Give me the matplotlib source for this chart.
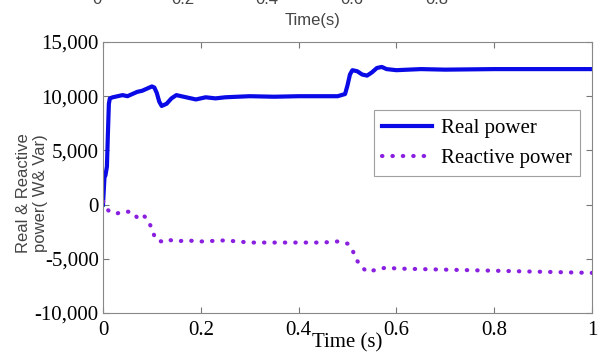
import numpy as np
import matplotlib.pyplot as plt
from matplotlib.ticker import FuncFormatter

plt.rcParams['font.family'] = 'Liberation Serif'

# real power (W)
t_real = [0, 0.003, 0.005, 0.008, 0.010, 0.012, 0.014, 0.02, 0.03, 0.04, 0.05,
          0.06, 0.07, 0.08, 0.09, 0.095, 0.10, 0.105, 0.11, 0.115, 0.12, 0.13,
          0.14, 0.15, 0.17, 0.19, 0.21, 0.23, 0.25, 0.30, 0.35, 0.40, 0.45,
          0.48, 0.495, 0.50, 0.505, 0.51, 0.52, 0.53, 0.54, 0.55, 0.56, 0.57,
          0.58, 0.60, 0.65, 0.70, 0.80, 0.90, 1.0]
p_real = [0, 2500, 2700, 3500, 6500, 9300, 9800, 9900, 10000, 10100, 10000,
          10200, 10400, 10500, 10700, 10800, 10900, 10800, 10300, 9500, 9100, 9300,
          9800, 10100, 9900, 9700, 9900, 9800, 9900, 10000, 9950, 10000, 10000,
          10000, 10200, 11000, 12000, 12400, 12300, 12000, 11900, 12200, 12600, 12700,
          12500, 12400, 12500, 12450, 12500, 12500, 12500]

# reactive power (Var)
t_q = [0, 0.005, 0.01, 0.015, 0.02, 0.03, 0.04, 0.05, 0.06, 0.07, 0.08, 0.09,
       0.10, 0.105, 0.11, 0.12, 0.13, 0.15, 0.17, 0.20, 0.25, 0.30, 0.35, 0.40,
       0.45, 0.48, 0.50, 0.51, 0.52, 0.53, 0.54, 0.56, 0.58, 0.60, 0.70, 0.80,
       0.90, 1.0]
q_react = [300, 0, -500, -700, -750, -800, -650, -650, -700, -1200, -900, -1300,
           -2200, -2900, -3300, -3400, -3200, -3400, -3300, -3400, -3300, -3500, -3500, -3500,
           -3500, -3400, -3600, -4200, -5200, -5800, -6200, -6000, -5800, -5900, -6000, -6100,
           -6200, -6300]

xticks = [0, 0.2, 0.4, 0.6, 0.8, 1]
yticks = [-10000, -5000, 0, 5000, 10000, 15000]

fig = plt.figure(figsize=(6.05, 3.62), dpi=100)
ax = fig.add_axes([103/605, 1 - 313/362, 489/605, 271/362])

ax.plot(t_real, p_real, color='#0a0ae6', lw=3, label='Real power')
ax.plot(t_q, q_react, color='#8a1fe0', lw=3, ls=(0, (0.1, 2.4)),
        dash_capstyle='round', label='Reactive power')

ax.set_xlim(0, 1)
ax.set_ylim(-10000, 15000)
ax.set_xticks(xticks)
ax.set_xticklabels(['0', '0.2', '0.4', '0.6', '0.8', '1'])
ax.set_yticks(yticks)
ax.yaxis.set_major_formatter(FuncFormatter(lambda v, p: '{:,.0f}'.format(v)))
ax.tick_params(direction='in', top=True, right=True, labelsize=15,
               color='#777777', length=4, pad=3)
ax.tick_params(axis='x', pad=6)
for s in ax.spines.values():
    s.set_color('#888888')

ax.set_xlabel('Time (s)', fontsize=15, labelpad=-5)

fig.text(32/605, 1 - 193/362, 'Real & Reactive\npower( W& Var)', rotation=90,
         ha='center', va='center', fontsize=12, family='Liberation Sans',
         color='#444444', linespacing=1.2)

leg = ax.legend(loc='upper right', bbox_to_anchor=(0.975, 0.749), fontsize=15,
                frameon=True, fancybox=False, edgecolor='#888888',
                handlelength=2.4, handletextpad=0.4, borderpad=0.4,
                labelspacing=0.5, borderaxespad=0)
leg.get_frame().set_linewidth(0.8)

# cropped strip from the panel above
for xp, lab in zip([97, 183, 267, 352, 437], ['0', '0.2', '0.4', '0.6', '0.8']):
    fig.text(xp/605, 1 - (-1)/362, lab, ha='center', va='center', fontsize=12,
             family='Liberation Sans', color='#444444')
fig.text(313/605, 1 - 21/362, 'Time(s)', ha='center', va='center', fontsize=12,
         family='Liberation Sans', color='#444444')

fig.savefig('out.png', dpi=100)
